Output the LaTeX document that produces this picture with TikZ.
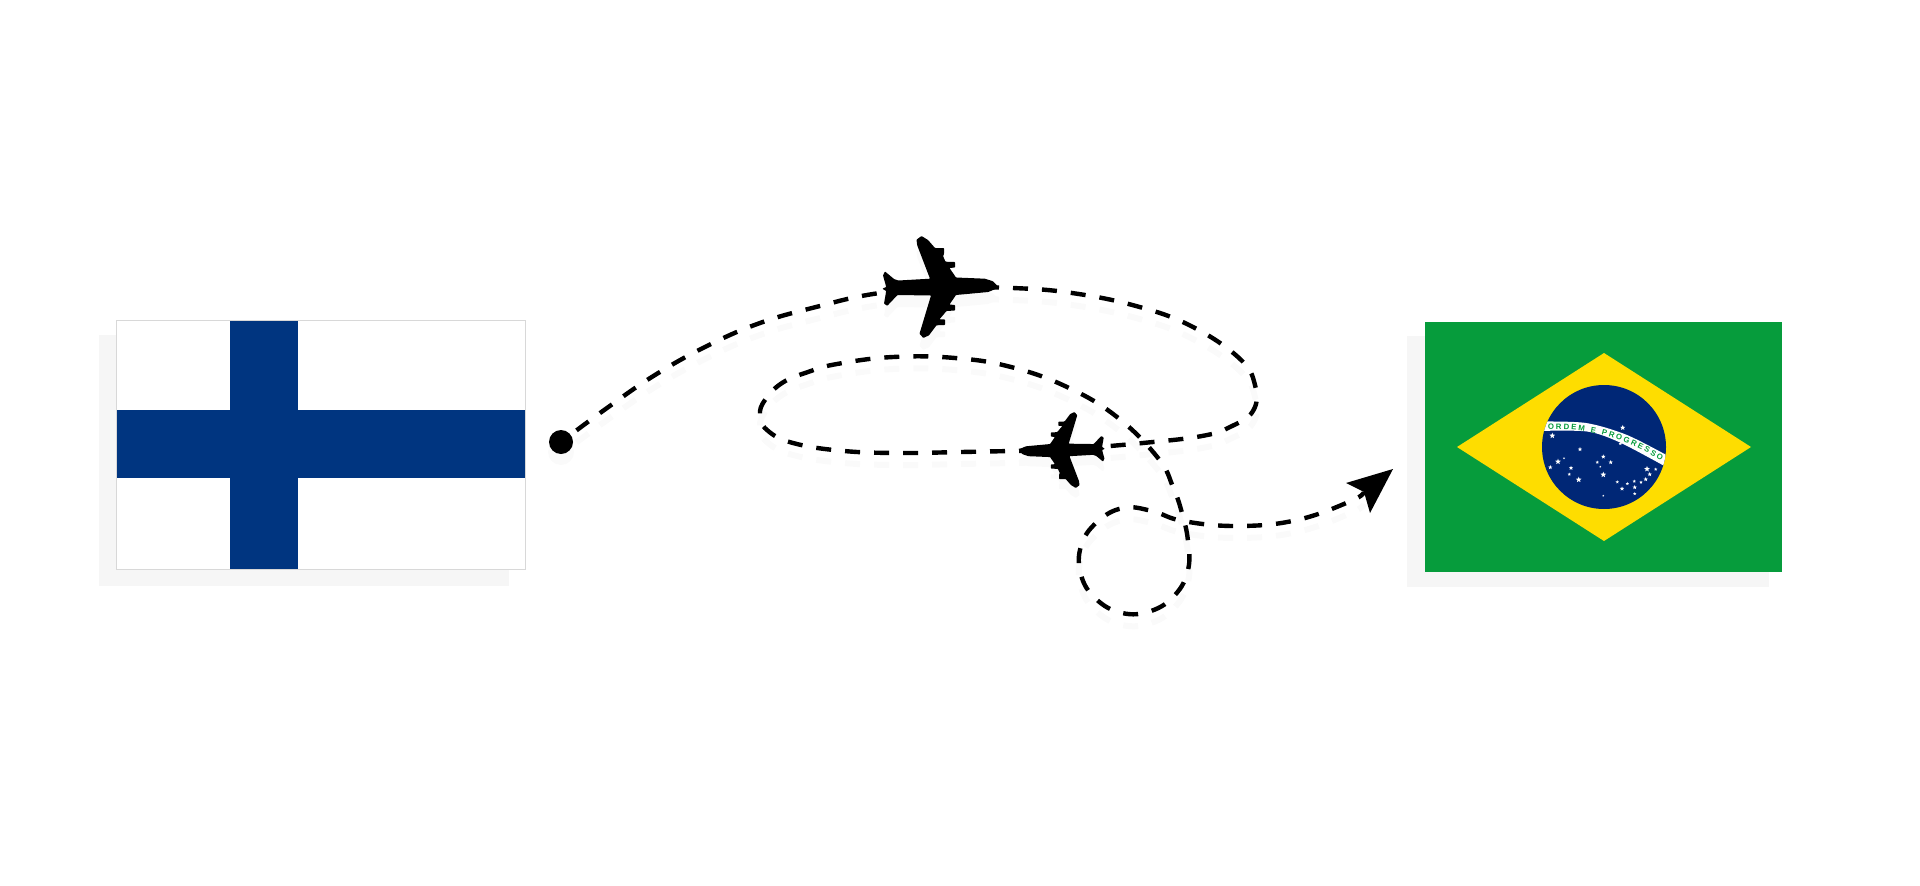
\documentclass[tikz,border=0pt]{standalone}
\usepackage{fontspec}
\usepackage{xcolor}
\setsansfont{Liberation Sans}
\usetikzlibrary{shapes.geometric}
\usetikzlibrary{decorations.text}
\definecolor{finblue}{HTML}{003580}
\definecolor{brgreen}{HTML}{069C3C}
\definecolor{bryellow}{HTML}{FEDD00}
\definecolor{brblue}{HTML}{002776}
\definecolor{softgray}{HTML}{F6F6F6}
\definecolor{faintgray}{HTML}{FAFAFA}
\definecolor{edgegray}{HTML}{D8D8D8}
\newcommand{\bandfont}{\fontsize{7.8}{9}\sffamily\bfseries}
\tikzset{dot/.style={inner sep=0pt,minimum size=24pt,circle,fill=black}}
\tikzset{routeline/.style={draw=black,line width=4.4pt,dash pattern=on 15pt off 14pt}}
\tikzset{routeshadow/.style={draw=faintgray,line width=6pt,dash pattern=on 15pt off 14pt,transform canvas={yshift=-12pt}}}
\tikzset{starmark/.style={star,star points=5,star point ratio=2.3,fill=white,inner sep=0pt}}
\tikzset{plane/.pic={
    \path[pic actions,rounded corners=0.6pt] (57.7,-1) -- (53,-5.7) -- (45,-8.3) -- (16,-9.5) -- (9.5,-19) -- (15,-19.5) -- (15,-25) -- (5.5,-25.3)
        -- (3,-31) -- (4,-33) -- (4,-39) -- (-5,-39) -- (-12,-47) -- (-18.5,-51) -- (-23.5,-47.3) -- (-22.8,-41.7)
        -- (-10,-8.3) -- (-41.7,-6.5) -- (-46,-8) -- (-55,-15.5) -- (-57,-11.7) -- (-53.8,0) -- (-57.7,1.7) -- (-53.8,4)
        -- (-56,16.7) -- (-52.7,18.8) -- (-42.5,8) -- (-9,8.5) -- (-20.5,46.7) -- (-16.7,51) -- (-11,48.3)
        -- (-3.5,38.3) -- (5,38) -- (5,32.5) -- (-0.5,32.3) -- (6.5,24) -- (15,23.5) -- (15,18) -- (9.5,17.5)
        -- (16,8) -- (48.3,5) -- (57.7,1) -- cycle;
}}

\begin{document}
\begin{tikzpicture}[x=1pt,y=-1pt]
    \useasboundingbox (0,0) rectangle (1920,886);

    \fill[softgray] (99,335) rectangle (509,586);
    \fill[white] (116,320) rectangle (525,569);
    \fill[finblue] (230,320) rectangle (298,569);
    \fill[finblue] (116,410) rectangle (525,478);
    \draw[edgegray,line width=0.8pt] (116,320) rectangle (525,569);

    \fill[softgray] (1407,336) rectangle (1769,587);
    \fill[brgreen] (1425,322) rectangle (1782,572);
    \fill[bryellow] (1457,447) -- (1604,353) -- (1751,447) -- (1604,541) -- cycle;
    \fill[brblue] (1604,447) circle (62);
    \begin{scope}
        \clip (1604,447) circle (62);
        \fill[white] plot[smooth] coordinates {(1540,421.5) (1586,423) (1627,435) (1670,457)}
            -- plot[smooth] coordinates {(1668,468) (1620,442.5) (1587,431.5) (1538,431)} -- cycle;
    \end{scope}
    \path[decorate,decoration={text along path,text align={fit to path},
        text={|\bandfont\color{brgreen}|ORDEM E PROGRESSO}}]
        (1548,429.5) .. controls (1585,427) and (1625,437) .. (1661,461);
    \foreach \sx/\sy/\ss [count=\i] in {1622.7/427.7/5.5,1552.3/435.7/6,1620.3/443.7/3.5,1580/449.3/4.5,1603.3/456.7/4.5,
        1610.7/462.3/4.5,1597.3/462.3/3.5,1600.3/466.7/2.2,1564/458.3/2.2,1558/461.7/6,1550.3/467.3/4.5,1571/468/4.5,
        1569.3/474.3/3.5,1578.7/479.7/6,1603.3/474.7/6,1647/469/6,1655.7/469.3/3.5,1649.7/474.3/4.5,1645.7/479.3/4.5,
        1641/482.3/3.5,1634.3/481.3/3.5,1627.3/483.7/3.5,1617.3/482/3.5,1634.7/487.3/4.5,1622/488.7/4.5,1634.7/493.7/3.5,1603.3/495.7/2.2}
        \node[starmark,minimum size=\ss pt] (star\i) at (\sx,\sy) {};

    \fill[faintgray] (561,452) circle (13);
    \coordinate (start) at (561,442);
    \coordinate (planeA) at (940,287);
    \coordinate (planeB) at (1062,450);
    \coordinate (arrowtail) at (1364,492);

    \foreach \look in {routeshadow,routeline} {
        \draw[\look,dash phase=9.6pt] plot[smooth,tension=.7] coordinates {(start) (607,408) (655,375) (707,346) (760,323) (816,307) (873,294) (planeA)};
        \draw[\look,dash phase=14pt] plot[smooth,tension=.7] coordinates {(planeA) (1013,288) (1072,293) (1136,306) (1191,326) (1239,358) (1255,385) (1253,411)
            (1230,427) (1202,436) (1143,443) (planeB)};
        \draw[\look,dash phase=1pt] plot[smooth,tension=.7] coordinates {(planeB) (961,452) (903,453) (844,451) (793,443) (767,430) (760,415) (765,400) (782,383)
            (808,372) (837,364) (893,357) (955,358) (1011,367) (1067,387) (1117,417) (1158,458) (1173,487) (1182,513) (1188,541) (1188,570) (1175,595) (1151,611)
            (1122,613) (1096,599) (1081,575) (1081,546) (1097,522) (1123,508) (1152,511) (1183,521) (1238,526) (1297,520) (1351,501) (arrowtail)};
    }

    \node[dot] (startdot) at (start) {};
    \pic[fill=faintgray] at (940,299) {plane};
    \pic[fill=faintgray,rotate=180,scale=.745] at (1062,460) {plane};
    \pic[fill=black] at (planeA) {plane};
    \pic[fill=black,rotate=180,scale=.745] at (planeB) {plane};
    \fill[black] (1393,469) -- (1346,483) -- (arrowtail) -- (1370,513) -- cycle;
\end{tikzpicture}
\end{document}
